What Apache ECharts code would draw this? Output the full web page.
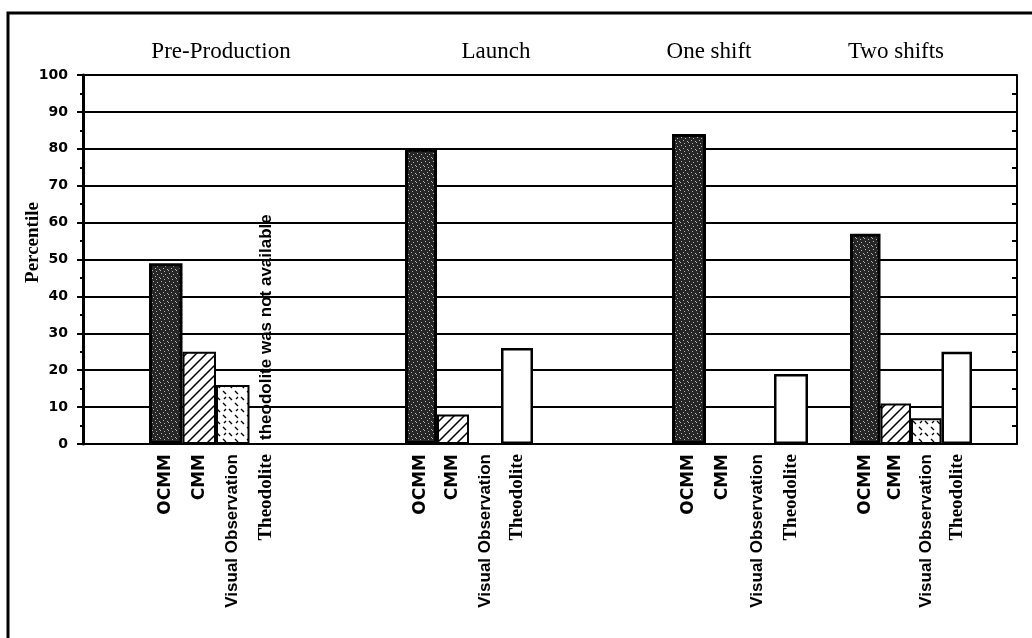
<!DOCTYPE html>
<html>
<head>
<meta charset="utf-8">
<title>Percentile by inspection method</title>
<script src="https://cdn.jsdelivr.net/npm/echarts/dist/echarts.min.js"></script>
<style>
  html, body { margin: 0; padding: 0; background: #fff; }
  #chart { width: 1032px; height: 638px; }
</style>
</head>
<body>
<div id="chart"></div>
<script>
// data
var phases = ['Pre-Production', 'Launch', 'One shift', 'Two shifts']
var methods = ['OCMM', 'CMM', 'Visual Observation', 'Theodolite']
var preProduction = [49, 25, 16, null]
var launch = [80, 8, 0, 26]
var oneShift = [84, 0, 0, 19]
var twoShifts = [57, 11, 7, 25]
var yTicks = [0, 10, 20, 30, 40, 50, 60, 70, 80, 90, 100]
var notAvailableText = 'theodolite was not available'

var phaseValues = [preProduction, launch, oneShift, twoShifts]

// layout (pixels)
var plotTop = 75
var plotBottom = 194
var groupBoxes = [[149, 134], [405, 128], [672, 136], [850, 122]]
var titleCenters = [221, 496, 709, 896]

// fill patterns
function tile (size, draw) {
  var c = document.createElement('canvas')
  c.width = size
  c.height = size
  var ctx = c.getContext('2d')
  draw(ctx)
  return { image: c, repeat: 'repeat' }
}
var stipple = tile(8, function (ctx) {
  ctx.fillStyle = '#262626'
  ctx.fillRect(0, 0, 8, 8)
  ctx.fillStyle = '#b5b5b5'
  var dots = [[1, 1], [5, 2], [3, 4], [7, 5], [0, 6], [4, 7]]
  dots.forEach(function (d) { ctx.fillRect(d[0], d[1], 1, 1) })
})
var hatch = tile(10, function (ctx) {
  ctx.fillStyle = '#fff'
  ctx.fillRect(0, 0, 10, 10)
  ctx.strokeStyle = '#000'
  ctx.lineWidth = 1.5
  ctx.beginPath()
  ctx.moveTo(-1, 11); ctx.lineTo(11, -1)
  ctx.moveTo(-1, 1); ctx.lineTo(1, -1)
  ctx.moveTo(9, 11); ctx.lineTo(11, 9)
  ctx.stroke()
})
var dashes = tile(12, function (ctx) {
  ctx.fillStyle = '#fff'
  ctx.fillRect(0, 0, 12, 12)
  ctx.strokeStyle = '#000'
  ctx.lineWidth = 1.4
  ctx.beginPath()
  ctx.moveTo(1, 1); ctx.lineTo(4, 4)
  ctx.moveTo(7, 7); ctx.lineTo(10, 10)
  ctx.moveTo(8, 3); ctx.lineTo(10, 1)
  ctx.stroke()
})

var methodStyles = [
  { color: stipple, borderColor: '#000', borderWidth: 3 },
  { color: hatch, borderColor: '#000', borderWidth: 2 },
  { color: dashes, borderColor: '#000', borderWidth: 2 },
  { color: '#fff', borderColor: '#000', borderWidth: 2.5 }
]
var labelStyleKey = { 'OCMM': 'caps', 'CMM': 'caps', 'Visual Observation': 'sans', 'Theodolite': 'serif' }

var naItem = {
  value: 0,
  itemStyle: { color: 'transparent', borderWidth: 0 },
  label: {
    show: true,
    formatter: notAvailableText,
    position: 'insideBottom',
    rotate: 90,
    align: 'left',
    verticalAlign: 'middle',
    distance: 4,
    color: '#000',
    fontFamily: 'Liberation Sans',
    fontWeight: 'bold',
    fontSize: 17
  }
}

var grids = [{ left: 83, right: 15, top: plotTop, bottom: plotBottom }]
var xAxes = [{
  gridIndex: 0, type: 'value', min: 0, max: 1,
  axisLine: { show: true, lineStyle: { color: '#000', width: 2 } },
  axisTick: { show: false }, axisLabel: { show: false }, splitLine: { show: false }
}]
var yAxes = [{
  gridIndex: 0, type: 'value', position: 'left',
  min: yTicks[0], max: yTicks[yTicks.length - 1], interval: yTicks[1] - yTicks[0],
  name: 'Percentile', nameLocation: 'middle', nameGap: 40, nameRotate: 90,
  nameMoveOverlap: false,
  nameTextStyle: { color: '#000', fontFamily: 'Liberation Serif', fontWeight: 'bold', fontSize: 19,
    padding: [0, 0, 0, 34] },
  axisLine: { show: true, lineStyle: { color: '#000', width: 3 } },
  axisTick: { show: true, length: 6, lineStyle: { color: '#000', width: 2 } },
  minorTick: { show: true, splitNumber: 2, length: 3, lineStyle: { color: '#000', width: 2 } },
  axisLabel: { color: '#000', fontFamily: 'DejaVu Sans', fontWeight: 'bold', fontSize: 14, margin: 15 },
  splitLine: { show: true, lineStyle: { color: '#000', width: 2 } }
}, {
  gridIndex: 0, type: 'value', position: 'right',
  min: yTicks[0], max: yTicks[yTicks.length - 1], interval: yTicks[1] - yTicks[0],
  axisLine: { show: true, lineStyle: { color: '#000', width: 2 } },
  axisTick: { show: true, inside: true, length: 5, lineStyle: { color: '#000', width: 2 } },
  minorTick: { show: true, splitNumber: 2, length: 5, lineStyle: { color: '#000', width: 2 } },
  axisLabel: { show: false }, splitLine: { show: false }
}]
var series = []

phaseValues.forEach(function (vals, i) {
  var box = groupBoxes[i]
  grids.push({ left: box[0], width: box[1], top: plotTop, bottom: plotBottom })
  xAxes.push({
    gridIndex: i + 1, type: 'category', data: methods,
    axisLine: { show: false }, axisTick: { show: false },
    axisLabel: {
      interval: 0, rotate: 90, margin: 10, color: '#000',
      formatter: function (v) { return '{' + labelStyleKey[v] + '|' + v + '}' },
      rich: {
        caps: { fontFamily: 'DejaVu Sans', fontWeight: 'bold', fontSize: 17, color: '#000' },
        sans: { fontFamily: 'Liberation Sans', fontWeight: 'bold', fontSize: 17, color: '#000' },
        serif: { fontFamily: 'Liberation Serif', fontWeight: 'bold', fontSize: 19, color: '#000' }
      }
    }
  })
  yAxes.push({ gridIndex: i + 1, type: 'value', min: 0, max: 100, show: false })
  series.push({
    type: 'bar', name: phases[i], xAxisIndex: i + 1, yAxisIndex: i + 2,
    barCategoryGap: '0%',
    data: vals.map(function (v, j) {
      if (v === null) return naItem
      return { value: v, itemStyle: methodStyles[j] }
    })
  })
})

var graphics = [{
  type: 'rect', silent: true, z: 100,
  shape: { x: 8, y: 13, width: 1040, height: 640 },
  style: { fill: 'none', stroke: '#000', lineWidth: 3 }
}]
phases.forEach(function (p, i) {
  graphics.push({
    type: 'text', x: titleCenters[i], y: 52, silent: true,
    style: { text: p, textAlign: 'center', textVerticalAlign: 'middle', fill: '#000',
      font: '23px "Liberation Serif"' }
  })
})

var chart = echarts.init(document.getElementById('chart'), null, { renderer: 'canvas' })
chart.setOption({
  backgroundColor: '#fff',
  animation: false,
  grid: grids,
  xAxis: xAxes,
  yAxis: yAxes,
  series: series,
  graphic: graphics
})
</script>
</body>
</html>
